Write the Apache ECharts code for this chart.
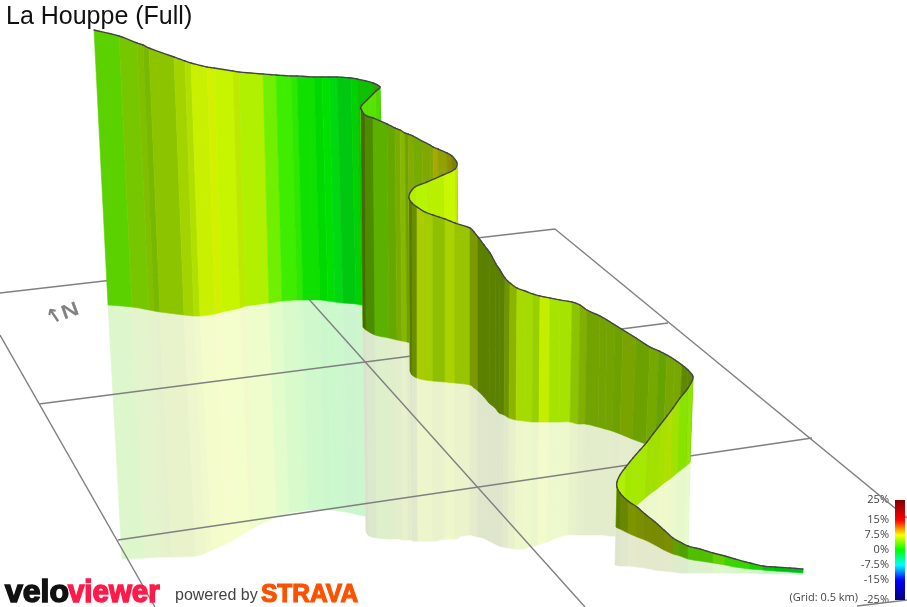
<!DOCTYPE html>
<html>
<head>
<meta charset="utf-8">
<style>html,body{margin:0;padding:0;background:#fff}#c{width:907px;height:607px}</style>
<script src="https://cdn.jsdelivr.net/npm/echarts@6/dist/echarts.min.js"></script>
</head>
<body>
<div id="c"></div>
<script>
// Course stations, in riding order (back to front).
const topX = [94,119,137,143,149,174,185,191,207,214,233,239,263,276,291,297,314,322,329,337,351,357,373,
  380,376,373,367,362,360.5,
  361,365,373,387,395,400,405,408,413,422,430,433,438,447,452,
  457,455,443,427,415,410,
  409,412,417,425,433,445,455,470,474,478,484,490,496,500,505,510,517,525,533,540,550,560,572,580,587,600,607,615,623,636,650,659,667,675,682,688,
  693,688,680,673,667,660,653,647,640,633,625,620,617,
  617,620,628,637,645,655,664,673,680,688,700,713,725,735,750,763,775,790,803];
const topY = [30,36,43,45,48,57,61,63,67,68,71,72,74,75,76,76,77,77,77,77,78,79,83,
  87,91,94,100,105,108,
  109,115,118,124,128,130,133,134,136,141,145,147,149,153,156,
  163,169,175,182,187,193,
  198,203,207,212,215,219,223,228,232,237,245,253,264,270,278,283,288,291,294,296,298,300,302,305,310,316,320,325,330,338,347,351,355,360,365,370,
  377,388,398,408,416,425,434,442,450,458,468,475,482,
  487,493,501,507,514,522,530,538,542,546,549,553,556,559,563,566,567,568,569];
const baseX = [108,132,149,154,160,184,194,200,215,222,240,246,269,282,297,303,320,328,335,343,356,362,378,
  385,382,378,373,368,365,
  363,366,375,389,397,402,407,410,415,424,432,435,440,449,454,
  459,457,446,431,420,414,
  410,412,417,425,433,445,455,470,474,478,484,489,495,499,504,509,516,524,532,539,549,559,570,578,585,598,605,612,620,632,646,655,663,671,678,684,
  690,686,677,670,664,657,650,644,637,630,624,620,617,
  616,620,628,637,645,655,664,673,680,688,700,713,725,735,750,763,775,790,803];
const baseY = [305,307,310,311,312,315,316,316,314,312,308,306,303,301,300,300,300,301,302,303,304,305,306,
  306,310,314,318,322,326,
  327,330,335,338,340,341,342,343,344,347,349,350,351,354,355,
  357,358,361,365,368,369,
  370,375,378,380,381,382,383,385,388,391,397,403,408,413,415,418,420,421,422,422,422,422,422,424,424,427,429,431,434,439,444,447,450,452,455,457,
  462,466,473,479,483,489,494,499,505,510,516,520,524,
  527,529,533,537,540,545,550,554,556,559,561,563,565,567,569,570,571,572,573];
const mirrorX = [122,145,161,166,172,196,206,212,226,233,250,255,277,289,303,308,324,332,338,346,359,365,380,
  387,384,380,375,370,367,
  366,369,377,390,398,403,408,411,416,425,433,436,441,450,455,
  459,457,447,433,422,415,
  412,413,418,426,433,445,455,470,474,478,483,489,495,499,503,508,515,523,531,538,547,557,568,576,583,596,603,610,617,628,642,651,659,667,674,680,
  688,684,675,668,662,655,648,642,636,630,624,620,616,
  615,620,628,637,645,655,664,673,680,688,700,713,725,735,750,763,775,790,803];
const mirrorY = [559,558,557,557,557,556,553,550,544,540,530,527,517,513,511,510,510,510,511,512,515,516,518,
  519,521,524,527,530,532,
  532,536,538,539,539,540,540,540,541,541,541,541,540,539,539,
  538,538,539,540,540,540,
  539,541,541,541,541,538,537,535,536,537,538,541,544,546,547,548,549,549,547,545,542,538,535,535,535,535,535,536,536,537,540,542,543,544,545,546,
  545,548,552,555,557,558,559,560,562,563,564,564,565,
  565,566,566,567,568,570,571,572,573,573,573,573,573,573,573,574,574,574,575];
// Gradient (%) of the stretch that starts at each station.
const grade = [3.3,4.5,5,4.9,5.4,5.8,5.9,6.25,6.6,6.1,6.1,5.5,3.5,2,1.5,0.5,0,0,-0.55,-0.6,0,0.6,2.2,
  2.7,2.9,2.9,2.9,2.9,2.9,
  5.3,4.07,3.9,4.6,5.3,5.5,5.2,5.75,5.2,5.7,5.7,7.5,6.75,7.3,7.5,
  6.2,6.05,5.75,5.55,5.6,5.6,
  5.75,5.5,6.2,6,5.6,6.1,5.8,6.1,6.1,5.4,5.4,5.4,5.4,5.4,5.6,5.8,5.8,5.6,5.5,6.2,5.5,5.5,5.4,5.5,5.3,5.3,5.3,5.06,5.67,5.06,5.2,4.75,5.36,5.36,5.3,5.3,
  4.65,4.5,5.3,5.9,5.6,5.4,5.4,5.4,5.4,5.3,5.5,5.5,5.5,
  5.6,5.8,6.3,6.46,6.4,6.4,6.46,4.5,3.75,3.1,3.1,3.5,2.3,1.7,1.15,0,-0.4,-1.1];
// Sun-lit brightness of the same stretch.
const shade = [0.82,0.78,0.75,0.72,0.77,0.83,0.88,0.94,0.94,0.96,0.91,0.94,0.94,0.93,0.91,0.88,0.85,0.88,0.85,0.78,0.82,0.75,0.63,
  0.85,0.89,0.89,0.89,0.89,0.89,
  0.41,0.55,0.69,0.66,0.67,0.72,0.63,0.67,0.67,0.66,0.66,0.66,0.63,0.56,0.5,
  0.91,0.97,0.94,0.96,0.94,0.94,
  0.47,0.56,0.8,0.8,0.75,0.82,0.77,0.6,0.6,0.5,0.5,0.5,0.5,0.5,0.58,0.71,0.85,0.86,0.82,0.93,0.89,0.89,0.77,0.69,0.64,0.64,0.64,0.63,0.64,0.63,0.66,0.64,0.66,0.66,0.53,0.53,
  0.91,0.89,0.89,0.88,0.88,0.88,0.88,0.91,0.91,0.91,0.94,0.94,0.94,
  0.49,0.53,0.58,0.56,0.55,0.55,0.56,0.63,0.63,0.75,0.75,0.82,0.82,0.85,0.82,0.78,0.75,0.75];
// Ground grid lines: [x0, y0, x1, y1]
const gridAcross1 = [0,293,555,229];
const gridAcross2 = [39,404,668,323];
const gridAcross3 = [118,540,812,438];
const gridAcross4 = [857,606,907,600];
const gridAlong1 = [555,229,907,518];
const gridAlong2 = [280,267,585,607];
const gridAlong3 = [0,335,155,607];
const gridLines = [gridAcross1,gridAcross2,gridAcross3,gridAcross4,gridAlong1,gridAlong2,gridAlong3];
// Colour key
const keyTicks = [25,15,7.5,0,-7.5,-15,-25];

function rampColor(g, v) {
  let r, gr, b;
  if (g >= 15) { r = 1 - 0.5 * (g - 15) / 10; gr = 0; b = 0; }
  else if (g <= -15) { b = 1 - 0.5 * (-g - 15) / 10; r = 0; gr = 0; }
  else if (g >= 7.5) { r = 1; gr = (15 - g) / 7.5; b = 0; }
  else if (g >= 0) { r = g / 7.5; gr = 1; b = 0; }
  else if (g >= -7.5) { r = 0; gr = 1; b = -g / 7.5; }
  else { r = 0; gr = (15 + g) / 7.5; b = 1; }
  return [r * v * 255, gr * v * 255, b * v * 255];
}
const css = c => 'rgb(' + c.map(Math.round).join(',') + ')';
const wash = c => c.map(k => k * 0.2 + 255 * 0.8);

const stations = grade.map((g, i) => [topX[i], topY[i], i]);

// Rounds an edge between two stations: screen points along a spline through the neighbours.
function edge(api, xs, ys, i) {
  const P = k => { const j = Math.max(0, Math.min(xs.length - 1, k)); return api.coord([xs[j], ys[j]]); };
  const p0 = P(i-1), p1 = P(i), p2 = P(i+1), p3 = P(i+2);
  const d = (a, b) => Math.hypot(a[0]-b[0], a[1]-b[1]);
  const l0 = d(p0,p1), l1 = d(p1,p2), l2 = d(p2,p3);
  const k1 = l1 / (3 * Math.max(l0 + l1, 1e-6)), k2 = l1 / (3 * Math.max(l1 + l2, 1e-6));
  const c1 = [p1[0] + (p2[0]-p0[0]) * k1, p1[1] + (p2[1]-p0[1]) * k1];
  const c2 = [p2[0] - (p3[0]-p1[0]) * k2, p2[1] - (p3[1]-p1[1]) * k2];
  const out = [];
  for (let s = 0; s <= 6; s++) {
    const t = s / 6, u = 1 - t;
    out.push([0,1].map(m => u*u*u*p1[m] + 3*u*u*t*c1[m] + 3*u*t*t*c2[m] + t*t*t*p2[m]));
  }
  return out;
}
function ribbonItem(params, api) {
  const i = api.value(2);
  const top = edge(api, topX, topY, i), low = edge(api, baseX, baseY, i);
  const col = css(rampColor(grade[i], shade[i]));
  return { type: 'group', children: [
    { type: 'polygon', shape: { points: top.concat(low.slice().reverse()) }, style: { fill: col, stroke: col, lineWidth: 0.6 } },
    { type: 'polyline', shape: { points: top }, style: { stroke: '#444', lineWidth: 1.4, fill: null, lineCap: 'round' } }
  ]};
}
function mirrorItem(params, api) {
  const i = api.value(2);
  const low = edge(api, baseX, baseY, i), mir = edge(api, mirrorX, mirrorY, i);
  const col = css(wash(rampColor(grade[i], shade[i])));
  return { type: 'polygon', shape: { points: low.concat(mir.slice().reverse()) }, style: { fill: col, stroke: col, lineWidth: 0.6 } };
}
function keyItem(params, api) {
  const p = api.coord([0, 25]), q = api.coord([1, -25]);
  return { type: 'rect', shape: { x: p[0], y: p[1], width: q[0]-p[0], height: q[1]-p[1] },
    style: { fill: new echarts.graphic.LinearGradient(0,0,0,1,
      keyTicks.map(t => ({ offset: (25 - t) / 50, color: css(rampColor(t, 1)) }))) } };
}

const lineSeries = gridLines.map(l => ({
  type: 'line', xAxisIndex: 0, yAxisIndex: 0, z: 2, silent: true, animation: false,
  showSymbol: false, symbol: 'none', data: [[l[0],l[1]],[l[2],l[3]]],
  lineStyle: { color: '#808080', width: 1.4 }
}));

const chart = echarts.init(document.getElementById('c'), null, { renderer: 'canvas' });
chart.setOption({
  animation: false,
  backgroundColor: '#fff',
  grid: [
    { left: 0, top: 0, width: 907, height: 607 },
    { left: 895, top: 500, width: 10, height: 100 }
  ],
  xAxis: [
    { type: 'value', min: 0, max: 907, show: false, gridIndex: 0 },
    { type: 'value', min: 0, max: 1, show: false, gridIndex: 1 }
  ],
  yAxis: [
    { type: 'value', min: 0, max: 607, inverse: true, show: false, gridIndex: 0 },
    { type: 'value', min: -25, max: 25, gridIndex: 1, position: 'left',
      axisLine: { show: false }, axisTick: { show: false }, splitLine: { show: false },
      axisLabel: { customValues: keyTicks, formatter: v => v + '%', margin: 6, fontSize: 11,
        fontFamily: 'Open Sans', color: '#444', showMinLabel: true, showMaxLabel: true, hideOverlap: false } }
  ],
  series: [
    { type: 'custom', z: 1, silent: true, animation: false, progressive: 0, clip: false,
      xAxisIndex: 0, yAxisIndex: 0, encode: { x: 0, y: 1 }, data: stations, renderItem: mirrorItem },
    ...lineSeries,
    { type: 'custom', z: 3, silent: true, animation: false, progressive: 0, clip: false,
      xAxisIndex: 0, yAxisIndex: 0, encode: { x: 0, y: 1 }, data: stations, renderItem: ribbonItem },
    { type: 'custom', z: 5, silent: true, animation: false, clip: false,
      xAxisIndex: 1, yAxisIndex: 1, encode: { x: 0, y: 1 }, data: [[0, 0]], renderItem: keyItem }
  ],
  graphic: { elements: [
    { type: 'text', z: 0, x: 6, y: 5, style: { text: 'La Houppe (Full)', font: '25px "Liberation Sans"', fill: '#111' } },
    { type: 'text', z: 1, x: 54, y: 330, rotation: 0.6,
      style: { text: '↑', font: 'bold 20px "DejaVu Sans"', fill: '#808080', verticalAlign: 'bottom' } },
    { type: 'text', z: 1, x: 62, y: 315, rotation: 0.35, scaleX: 1.35,
      style: { text: 'N', font: '18px "DejaVu Sans"', fill: '#808080', stroke: '#808080', lineWidth: 0.4, verticalAlign: 'middle' } },
    { type: 'text', z: 10, x: 858, y: 598, style: { text: '(Grid: 0.5 km)', font: '11px "Open Sans"', fill: '#444', align: 'right', verticalAlign: 'middle' } },
    { type: 'text', z: 10, x: 5, y: 593, style: { text: 'velo', font: 'bold 32px "Liberation Sans"', fill: '#111', stroke: '#111', lineWidth: 1.6, verticalAlign: 'middle' } },
    { type: 'text', z: 10, x: 68, y: 593, scaleX: 0.92, style: { text: 'viewer', font: 'bold 32px "Liberation Sans"', fill: '#ff1a4a', stroke: '#ff1a4a', lineWidth: 1.6, verticalAlign: 'middle' } },
    { type: 'text', z: 10, x: 175, y: 596, style: { text: 'powered by', font: '16px "Liberation Sans"', fill: '#444', verticalAlign: 'middle' } },
    { type: 'text', z: 10, x: 261, y: 595, scaleX: 0.98, style: { text: 'STRAVA', font: 'bold 25px "Liberation Sans"', fill: '#fc5200', stroke: '#fc5200', lineWidth: 1.2, verticalAlign: 'middle' } }
  ]}
});
</script>
</body>
</html>
